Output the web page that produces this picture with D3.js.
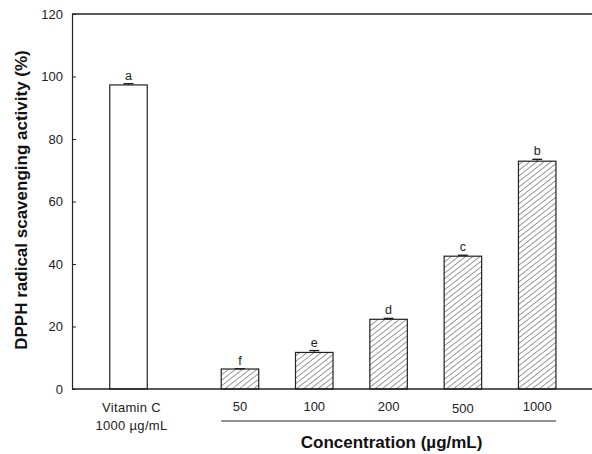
<!DOCTYPE html>
<html>
<head>
<meta charset="utf-8">
<script src="https://cdn.jsdelivr.net/npm/d3@7"></script>
<style>
  html, body { margin: 0; padding: 0; background: #fff; }
  svg { display: block; font-family: Arial, "Liberation Sans", sans-serif; }
</style>
</head>
<body>
<svg id="chart" width="592" height="454"></svg>
<script>
// DPPH radical scavenging activity: positive control and extract concentrations
const categories = ["Vitamin C", "50", "100", "200", "500", "1000"];
const values = [97.3, 6.4, 11.7, 22.3, 42.5, 72.9];
const errors = [0.4, 0.1, 0.6, 0.3, 0.3, 0.6];
const letters = ["a", "f", "e", "d", "c", "b"];
const hatched = [false, true, true, true, true, true];
const yTicks = [0, 20, 40, 60, 80, 100, 120];

const svg = d3.select("#chart");
const margin = { left: 72, top: 14, bottom: 389 };
const ink = "#222";

// y scale
const y = d3.scaleLinear().domain([0, 120]).range([margin.bottom, margin.top]);

// x: control sits alone, concentrations follow after a half-slot gap
const slot = i => (i === 0 ? 0 : i + 0.5);
const x = d3.scaleLinear().domain([0, 5.5]).range([128.5, 537.2]);
const barW = 37.5;

// hatch pattern for extract bars
const defs = svg.append("defs");
defs.append("pattern")
  .attr("id", "hatch")
  .attr("patternUnits", "userSpaceOnUse")
  .attr("width", 4.4).attr("height", 4.4)
  .attr("patternTransform", "rotate(52)")
  .append("line")
  .attr("x1", 0).attr("y1", 0).attr("x2", 0).attr("y2", 4.4)
  .attr("stroke", "#333").attr("stroke-width", 1);

// frame: top and bottom run past the right edge
svg.append("line").attr("x1", margin.left).attr("x2", 600)
  .attr("y1", margin.top).attr("y2", margin.top)
  .attr("stroke", ink).attr("stroke-width", 1.3);

// y axis with inward ticks
const yAxis = d3.axisLeft(y).tickValues(yTicks).tickSizeInner(-4).tickSizeOuter(0).tickPadding(9);
const gy = svg.append("g").attr("transform", `translate(${margin.left},0)`).call(yAxis);
gy.select(".domain").attr("stroke", ink).attr("stroke-width", 1.2);
gy.selectAll(".tick line").attr("stroke", ink);
gy.selectAll(".tick text").attr("fill", ink).style("font-size", "13px")
  .attr("font-family", "Arial, 'Liberation Sans', sans-serif");

// bars
const data = categories.map((c, i) => ({ c, i, v: values[i], e: errors[i], l: letters[i], h: hatched[i] }));
const g = svg.append("g");
g.selectAll("rect.bar").data(data).join("rect")
  .attr("class", "bar")
  .attr("x", d => x(slot(d.i)) - barW / 2)
  .attr("width", barW)
  .attr("y", d => y(d.v))
  .attr("height", d => y(0) - y(d.v))
  .attr("fill", d => (d.h ? "url(#hatch)" : "#fff"))
  .attr("stroke", ink).attr("stroke-width", 1.2);

// error bars
g.selectAll("line.err").data(data).join("line")
  .attr("class", "err")
  .attr("x1", d => x(slot(d.i))).attr("x2", d => x(slot(d.i)))
  .attr("y1", d => y(d.v)).attr("y2", d => y(d.v + d.e))
  .attr("stroke", ink).attr("stroke-width", 1);
g.selectAll("line.cap").data(data).join("line")
  .attr("class", "cap")
  .attr("x1", d => x(slot(d.i)) - 5).attr("x2", d => x(slot(d.i)) + 5)
  .attr("y1", d => y(d.v + d.e)).attr("y2", d => y(d.v + d.e))
  .attr("stroke", ink).attr("stroke-width", 1.4);

// significance letters
g.selectAll("text.sig").data(data).join("text")
  .attr("class", "sig")
  .attr("x", d => x(slot(d.i)))
  .attr("y", d => y(d.v + d.e) - 4)
  .attr("text-anchor", "middle")
  .attr("fill", ink).style("font-size", "12.5px")
  .text(d => d.l);

// x baseline
svg.append("line").attr("x1", margin.left).attr("x2", 600)
  .attr("y1", y(0)).attr("y2", y(0))
  .attr("stroke", ink).attr("stroke-width", 1.3);

// category labels
const lab = svg.append("g").attr("fill", ink).style("font-size", "13px").attr("text-anchor", "middle");
lab.append("text").attr("x", x(0) + 3).attr("y", 412).attr("letter-spacing", "0.3px").text("Vitamin C");
lab.append("text").attr("x", x(0) + 3).attr("y", 430).attr("letter-spacing", "0.3px").text("1000 \u00b5g/mL");
lab.selectAll("text.conc").data(data.slice(1)).join("text")
  .attr("class", "conc")
  .attr("x", d => x(slot(d.i)))
  .attr("y", d => (d.c === "500" ? 413 : 411))
  .text(d => d.c);

// bracket under concentration labels
svg.append("line")
  .attr("x1", x(slot(1)) - barW / 2).attr("x2", x(slot(5)) + barW / 2)
  .attr("y1", 421).attr("y2", 421)
  .attr("stroke", ink).attr("stroke-width", 1);

// axis titles
svg.append("text")
  .attr("x", (x(slot(1)) + x(slot(5))) / 2 + 3).attr("y", 448)
  .attr("text-anchor", "middle").attr("font-weight", "bold")
  .style("font-size", "17px").attr("fill", "#111")
  .text("Concentration (\u00b5g/mL)");

svg.append("text")
  .attr("transform", `translate(27,200) rotate(-90)`)
  .attr("text-anchor", "middle").attr("font-weight", "bold")
  .style("font-size", "17px").attr("fill", "#111")
  .text("DPPH radical scavenging activity (%)");
</script>
</body>
</html>
